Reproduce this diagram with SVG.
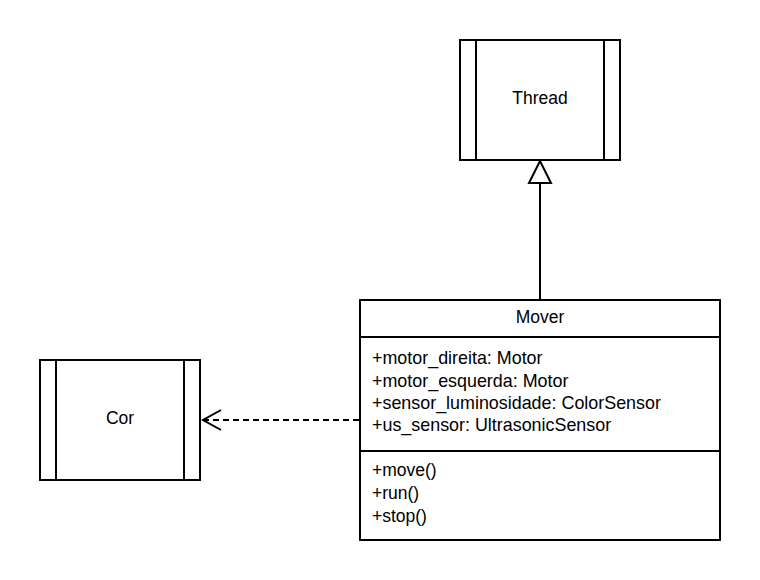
<svg xmlns="http://www.w3.org/2000/svg" width="760" height="580" viewBox="0 0 760 580">
<style>
.box{fill:#fff;stroke:#000;stroke-width:2}
.ln{stroke:#000;stroke-width:2;fill:none}
.t{font-family:"Liberation Sans",Arial,sans-serif;font-size:17.5px;fill:#000}
.a{font-size:17.9px}
.c{text-anchor:middle}
</style>
<rect width="760" height="580" fill="#fff"/>
<g id="connectors">
<line class="ln" x1="540" y1="183" x2="540" y2="300"/>
<polygon points="540,161 529,183 551,183" fill="#fff" stroke="#000" stroke-width="2"/>
<line class="ln" x1="359" y1="420" x2="204" y2="420" stroke-dasharray="6 4"/>
<polyline class="ln" points="221,410 203,420 221,430"/>
</g>
<g id="thread">
<rect class="box" x="460" y="40" width="160" height="120"/>
<line class="ln" x1="476" y1="40" x2="476" y2="160"/>
<line class="ln" x1="604" y1="40" x2="604" y2="160"/>
<text class="t c" x="540" y="104">Thread</text>
</g>
<g id="cor">
<rect class="box" x="40" y="360" width="160" height="120"/>
<line class="ln" x1="56" y1="360" x2="56" y2="480"/>
<line class="ln" x1="184" y1="360" x2="184" y2="480"/>
<text class="t c" x="120" y="424">Cor</text>
</g>
<g id="mover">
<rect class="box" x="360" y="300" width="360" height="240"/>
<line class="ln" x1="360" y1="337" x2="720" y2="337"/>
<line class="ln" x1="360" y1="451" x2="720" y2="451"/>
<text class="t c" x="540" y="323">Mover</text>
<text class="t a" x="372" y="364">+motor_direita: Motor</text>
<text class="t a" x="372" y="387">+motor_esquerda: Motor</text>
<text class="t a" x="372" y="409">+sensor_luminosidade: ColorSensor</text>
<text class="t a" x="372" y="431">+us_sensor: UltrasonicSensor</text>
<text class="t" x="372" y="476">+move()</text>
<text class="t" x="372" y="499">+run()</text>
<text class="t" x="372" y="522">+stop()</text>
</g>
</svg>
